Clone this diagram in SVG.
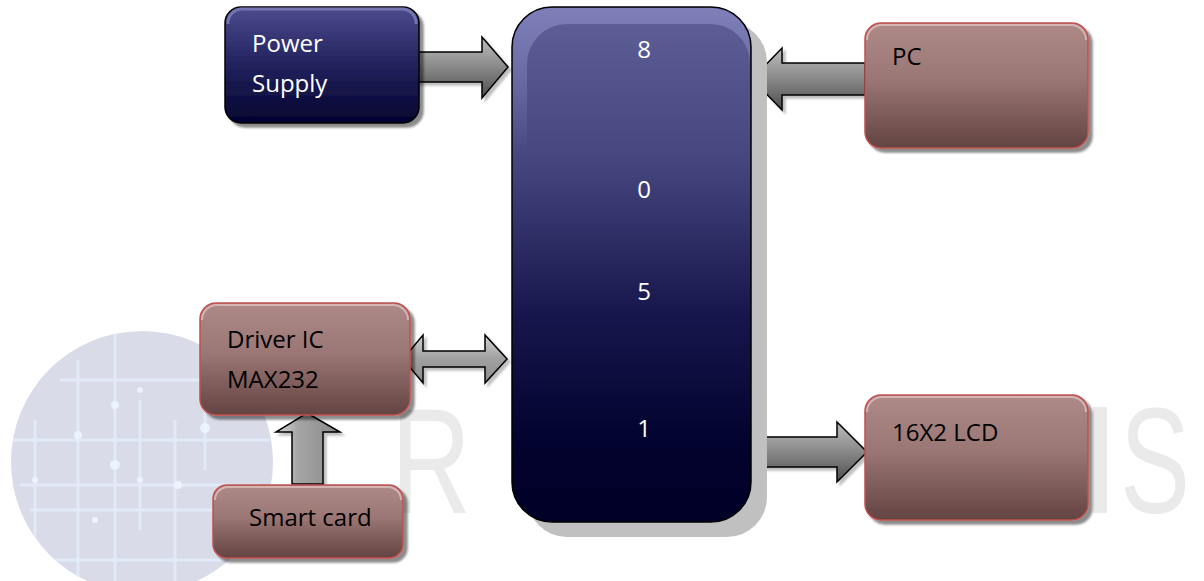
<svg xmlns="http://www.w3.org/2000/svg" width="1204" height="581" viewBox="0 0 1204 581">
<defs>
<linearGradient id="gRed" x1="0" y1="0" x2="0" y2="1">
<stop offset="0" stop-color="#ad8a88"/><stop offset="0.45" stop-color="#9a7674"/><stop offset="1" stop-color="#634442"/>
</linearGradient>
<linearGradient id="gBlue" x1="0" y1="0" x2="0" y2="1">
<stop offset="0" stop-color="#4c4c8e"/><stop offset="0.5" stop-color="#22225e"/><stop offset="1" stop-color="#03032f"/>
</linearGradient>
<linearGradient id="gMcu" x1="0" y1="0" x2="0" y2="1">
<stop offset="0" stop-color="#606099"/><stop offset="0.3" stop-color="#46467f"/><stop offset="0.6" stop-color="#16164c"/><stop offset="0.85" stop-color="#02022e"/><stop offset="1" stop-color="#000028"/>
</linearGradient>
<linearGradient id="gMcuHi" x1="0" y1="0" x2="0" y2="1">
<stop offset="0" stop-color="#8282bc"/><stop offset="0.5" stop-color="#8282bc" stop-opacity="0"/>
</linearGradient>
<linearGradient id="gArrH" x1="0" y1="0" x2="0" y2="1">
<stop offset="0" stop-color="#bdbdbd"/><stop offset="0.5" stop-color="#888"/><stop offset="1" stop-color="#4e4e4e"/>
</linearGradient>
<linearGradient id="gArrV" x1="0" y1="0" x2="1" y2="0">
<stop offset="0" stop-color="#d8d8d8"/><stop offset="0.35" stop-color="#a4a4a4"/><stop offset="1" stop-color="#8a8a8a"/>
</linearGradient>
<linearGradient id="gArrD" x1="0" y1="0" x2="0" y2="1">
<stop offset="0" stop-color="#d0d0d0"/><stop offset="0.5" stop-color="#a0a0a0"/><stop offset="1" stop-color="#8c8c8c"/>
</linearGradient>
<filter id="sh" x="-10%" y="-10%" width="130%" height="130%">
<feDropShadow dx="4" dy="4" stdDeviation="1.2" flood-color="#000" flood-opacity="0.45"/>
</filter>
<filter id="ash" x="-10%" y="-10%" width="130%" height="130%">
<feDropShadow dx="3" dy="3" stdDeviation="1" flood-color="#000" flood-opacity="0.25"/>
</filter>
<clipPath id="circ"><circle cx="142" cy="462" r="131"/></clipPath>
</defs>
<style>
.red{fill:url(#gRed);stroke:#c0504d;stroke-width:1.5}
.hiR{fill:none;stroke:#e6c8c8;stroke-width:2;opacity:0.7}
.lbl{font-family:"Open Sans","Liberation Sans",sans-serif;font-size:24px;fill:#000}
.lblw{font-family:"Open Sans","Liberation Sans",sans-serif;font-size:24px;fill:#fff}
.arr{stroke:#000;stroke-width:1.5;stroke-linejoin:miter}
.wm{font-family:"Liberation Sans","DejaVu Sans",sans-serif;font-size:150px;fill:#eaeaea}
</style>
<rect width="1204" height="581" fill="#fff"/>
<g id="watermark">
<circle cx="142" cy="462" r="131" fill="#d9dbe8"/>
<g clip-path="url(#circ)" stroke="#e4edfc" stroke-width="3" fill="none" opacity="0.8">
<path d="M10 440 H270 M20 485 H260 M30 510 H250 M60 380 H230 M15 560 H240"/>
<path d="M78 360 V581 M115 330 V581 M140 400 V530 M175 420 V581 M205 350 V470 M35 420 V560"/>
</g>
<g fill="#eef5ff" clip-path="url(#circ)" opacity="0.9">
<circle cx="78" cy="435" r="4"/><circle cx="115" cy="405" r="4"/><circle cx="115" cy="465" r="5"/><circle cx="140" cy="390" r="3"/><circle cx="178" cy="485" r="4"/><circle cx="205" cy="428" r="5"/><circle cx="35" cy="480" r="3"/><circle cx="140" cy="480" r="3"/><circle cx="95" cy="520" r="3"/>
</g>
<text class="wm" transform="translate(391,513) scale(0.74,1)">R</text>
<text class="wm" transform="translate(1120,513) scale(0.7,1)">S</text>
<rect x="1093" y="407" width="14" height="106" fill="#eaeaea"/>
</g>
<g id="connectors">
<polygon id="arrow-power" class="arr" fill="url(#gArrH)" filter="url(#ash)" points="410,52 482,52 482,37 508,67 482,98 482,82 410,82"/>
<polygon id="arrow-pc" class="arr" fill="url(#gArrH)" filter="url(#ash)" points="865,63 782,63 782,48 752,79 782,110 782,95 865,95"/>
<polygon id="arrow-driver" class="arr" fill="url(#gArrD)" filter="url(#ash)" points="403,359 423,335 423,351 485,351 485,335 507,359 485,383 485,367 423,367 423,383"/>
<polygon id="arrow-card" class="arr" fill="url(#gArrV)" filter="url(#ash)" points="307,413 340,432 323,432 323,484 292,484 292,432 276,432"/>
<polygon id="arrow-lcd" class="arr" fill="url(#gArrH)" filter="url(#ash)" points="751,437 837,437 837,422 867,452 837,482 837,467 751,467"/>
</g>
<g id="node-mcu">
<rect x="527" y="22" width="240" height="515" rx="40" fill="#c0c0c0"/>
<rect x="512" y="7" width="239" height="515" rx="40" fill="url(#gMcu)" stroke="#000" stroke-width="1.5"/>
<path d="M513 47 A39 39 0 0 1 552 8 H711 A39 39 0 0 1 750 47 V60 A40 40 0 0 0 710 24 H567 A40 40 0 0 0 527 64 V300 H513 Z" fill="url(#gMcuHi)" opacity="0.9"/>
<text class="lblw" x="644" y="58" text-anchor="middle">8</text>
<text class="lblw" x="644" y="198" text-anchor="middle">0</text>
<text class="lblw" x="644" y="300" text-anchor="middle">5</text>
<text class="lblw" x="644" y="437" text-anchor="middle">1</text>
</g>
<g id="node-power">
<rect x="225" y="7" width="194" height="116" rx="16" fill="url(#gBlue)" stroke="#000" stroke-width="1.5" filter="url(#sh)"/>
<path d="M228 24 A14 14 0 0 1 242 9 H402 A14 14 0 0 1 416 24" fill="none" stroke="#8080bb" stroke-width="3" opacity="0.8"/>
<text class="lblw" x="252" y="52">Power</text>
<text class="lblw" x="252" y="92">Supply</text>
</g>
<g id="node-pc">
<rect x="865" y="23" width="223" height="125" rx="16" class="red" filter="url(#sh)"/>
<path d="M867 40 A15 15 0 0 1 882 25 H1071 A15 15 0 0 1 1086 40" class="hiR"/>
<text class="lbl" x="892" y="65">PC</text>
</g>
<g id="node-driver">
<rect x="200" y="303" width="210" height="112" rx="16" class="red" filter="url(#sh)"/>
<path d="M202 320 A15 15 0 0 1 217 305 H393 A15 15 0 0 1 408 320" class="hiR"/>
<text class="lbl" x="227" y="348">Driver IC</text>
<text class="lbl" x="227" y="388">MAX232</text>
</g>
<g id="node-card">
<rect x="213" y="485" width="190" height="73" rx="14" class="red" filter="url(#sh)"/>
<path d="M215 500 A13 13 0 0 1 228 487 H388 A13 13 0 0 1 401 500" class="hiR"/>
<text class="lbl" x="249" y="526">Smart card</text>
</g>
<g id="node-lcd">
<rect x="865" y="395" width="223" height="125" rx="16" class="red" filter="url(#sh)"/>
<path d="M867 412 A15 15 0 0 1 882 397 H1071 A15 15 0 0 1 1086 412" class="hiR"/>
<text class="lbl" x="892" y="441">16X2 LCD</text>
</g>
</svg>
